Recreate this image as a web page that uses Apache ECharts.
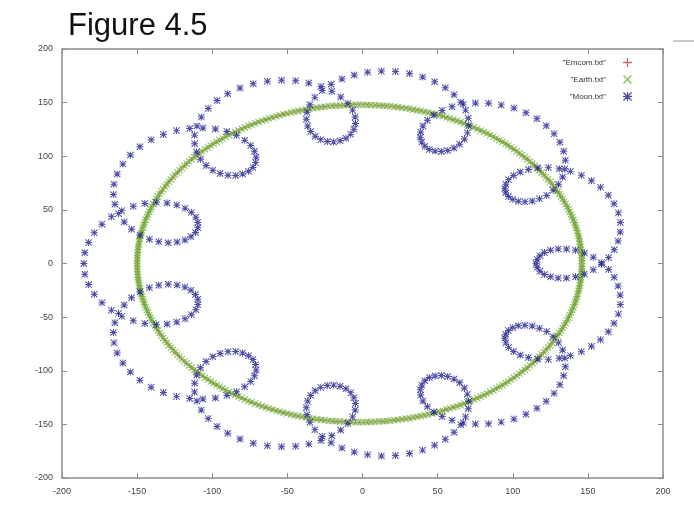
<!DOCTYPE html>
<html>
<head>
<meta charset="utf-8">
<title>Figure 4.5</title>
<style>
  html, body { margin: 0; padding: 0; background: #fff; }
  #chart { width: 694px; height: 509px; }
</style>
<script src="https://cdn.jsdelivr.net/npm/echarts@6/dist/echarts.min.js"></script>
</head>
<body>
<div id="chart"></div>
<script>
// axis range shared by x and y
const axisMin = -200;
const axisMax = 200;
const axisStep = 50;

const seriesNames = ['"Emcom.txt"', '"Earth.txt"', '"Moon.txt"'];

// Earth.txt, one point per step around the orbit
const earthX = [
  146.0,146.0,145.9,145.8,145.6,145.4,145.2,144.9,144.6,144.2,
  143.8,143.3,142.8,142.2,141.6,141.0,140.3,139.5,138.8,137.9,
  137.1,136.2,135.2,134.2,133.2,132.1,131.0,129.9,128.7,127.4,
  126.2,124.9,123.5,122.1,120.7,119.2,117.7,116.2,114.6,113.0,
  111.4,109.7,108.0,106.2,104.5,102.7,100.8,98.9,97.0,95.1,
  93.1,91.1,89.1,87.1,85.0,82.9,80.8,78.6,76.4,74.2,
  72.0,69.8,67.5,65.2,62.9,60.5,58.2,55.8,53.4,51.0,
  48.6,46.2,43.7,41.3,38.8,36.3,33.8,31.3,28.8,26.2,
  23.7,21.2,18.6,16.0,13.5,10.9,8.3,5.7,3.2,0.6,
  -2.0,-4.6,-7.2,-9.7,-12.3,-14.9,-17.5,-20.0,-22.6,-25.2,
  -27.7,-30.2,-32.8,-35.3,-37.8,-40.3,-42.8,-45.3,-47.7,-50.2,
  -52.6,-55.0,-57.4,-59.8,-62.2,-64.5,-66.9,-69.2,-71.5,-73.8,
  -76.0,-78.2,-80.4,-82.6,-84.8,-86.9,-89.0,-91.1,-93.1,-95.1,
  -97.1,-99.1,-101.0,-102.9,-104.8,-106.7,-108.5,-110.2,-112.0,-113.7,
  -115.4,-117.0,-118.6,-120.2,-121.7,-123.2,-124.7,-126.1,-127.5,-128.9,
  -130.2,-131.4,-132.7,-133.9,-135.0,-136.1,-137.2,-138.2,-139.2,-140.2,
  -141.1,-141.9,-142.8,-143.5,-144.3,-145.0,-145.6,-146.2,-146.8,-147.3,
  -147.8,-148.2,-148.6,-148.9,-149.2,-149.4,-149.6,-149.8,-149.9,-150.0,
  -150.0,-150.0,-149.9,-149.8,-149.6,-149.4,-149.2,-148.9,-148.6,-148.2,
  -147.8,-147.3,-146.8,-146.2,-145.6,-145.0,-144.3,-143.5,-142.8,-141.9,
  -141.1,-140.2,-139.2,-138.2,-137.2,-136.1,-135.0,-133.9,-132.7,-131.4,
  -130.2,-128.9,-127.5,-126.1,-124.7,-123.2,-121.7,-120.2,-118.6,-117.0,
  -115.4,-113.7,-112.0,-110.2,-108.5,-106.7,-104.8,-102.9,-101.0,-99.1,
  -97.1,-95.1,-93.1,-91.1,-89.0,-86.9,-84.8,-82.6,-80.4,-78.2,
  -76.0,-73.8,-71.5,-69.2,-66.9,-64.5,-62.2,-59.8,-57.4,-55.0,
  -52.6,-50.2,-47.7,-45.3,-42.8,-40.3,-37.8,-35.3,-32.8,-30.2,
  -27.7,-25.2,-22.6,-20.0,-17.5,-14.9,-12.3,-9.7,-7.2,-4.6,
  -2.0,0.6,3.2,5.7,8.3,10.9,13.5,16.0,18.6,21.2,
  23.7,26.2,28.8,31.3,33.8,36.3,38.8,41.3,43.7,46.2,
  48.6,51.0,53.4,55.8,58.2,60.5,62.9,65.2,67.5,69.8,
  72.0,74.2,76.4,78.6,80.8,82.9,85.0,87.1,89.1,91.1,
  93.1,95.1,97.0,98.9,100.8,102.7,104.5,106.2,108.0,109.7,
  111.4,113.0,114.6,116.2,117.7,119.2,120.7,122.1,123.5,124.9,
  126.2,127.4,128.7,129.9,131.0,132.1,133.2,134.2,135.2,136.2,
  137.1,137.9,138.8,139.5,140.3,141.0,141.6,142.2,142.8,143.3,
  143.8,144.2,144.6,144.9,145.2,145.4,145.6,145.8,145.9,146.0
];
const earthY = [
  0.0,2.6,5.2,7.7,10.3,12.9,15.5,18.0,20.6,23.2,
  25.7,28.2,30.8,33.3,35.8,38.3,40.8,43.3,45.7,48.2,
  50.6,53.0,55.4,57.8,60.2,62.5,64.9,67.2,69.5,71.8,
  74.0,76.2,78.4,80.6,82.8,84.9,87.0,89.1,91.1,93.1,
  95.1,97.1,99.0,100.9,102.8,104.7,106.5,108.2,110.0,111.7,
  113.4,115.0,116.6,118.2,119.7,121.2,122.7,124.1,125.5,126.9,
  128.2,129.4,130.7,131.9,133.0,134.1,135.2,136.2,137.2,138.2,
  139.1,139.9,140.8,141.5,142.3,143.0,143.6,144.2,144.8,145.3,
  145.8,146.2,146.6,146.9,147.2,147.4,147.6,147.8,147.9,148.0,
  148.0,148.0,147.9,147.8,147.6,147.4,147.2,146.9,146.6,146.2,
  145.8,145.3,144.8,144.2,143.6,143.0,142.3,141.5,140.8,139.9,
  139.1,138.2,137.2,136.2,135.2,134.1,133.0,131.9,130.7,129.4,
  128.2,126.9,125.5,124.1,122.7,121.2,119.7,118.2,116.6,115.0,
  113.4,111.7,110.0,108.2,106.5,104.7,102.8,100.9,99.0,97.1,
  95.1,93.1,91.1,89.1,87.0,84.9,82.8,80.6,78.4,76.2,
  74.0,71.8,69.5,67.2,64.9,62.5,60.2,57.8,55.4,53.0,
  50.6,48.2,45.7,43.3,40.8,38.3,35.8,33.3,30.8,28.2,
  25.7,23.2,20.6,18.0,15.5,12.9,10.3,7.7,5.2,2.6,
  0.0,-2.6,-5.2,-7.7,-10.3,-12.9,-15.5,-18.0,-20.6,-23.2,
  -25.7,-28.2,-30.8,-33.3,-35.8,-38.3,-40.8,-43.3,-45.7,-48.2,
  -50.6,-53.0,-55.4,-57.8,-60.2,-62.5,-64.9,-67.2,-69.5,-71.8,
  -74.0,-76.2,-78.4,-80.6,-82.8,-84.9,-87.0,-89.1,-91.1,-93.1,
  -95.1,-97.1,-99.0,-100.9,-102.8,-104.7,-106.5,-108.2,-110.0,-111.7,
  -113.4,-115.0,-116.6,-118.2,-119.7,-121.2,-122.7,-124.1,-125.5,-126.9,
  -128.2,-129.4,-130.7,-131.9,-133.0,-134.1,-135.2,-136.2,-137.2,-138.2,
  -139.1,-139.9,-140.8,-141.5,-142.3,-143.0,-143.6,-144.2,-144.8,-145.3,
  -145.8,-146.2,-146.6,-146.9,-147.2,-147.4,-147.6,-147.8,-147.9,-148.0,
  -148.0,-148.0,-147.9,-147.8,-147.6,-147.4,-147.2,-146.9,-146.6,-146.2,
  -145.8,-145.3,-144.8,-144.2,-143.6,-143.0,-142.3,-141.5,-140.8,-139.9,
  -139.1,-138.2,-137.2,-136.2,-135.2,-134.1,-133.0,-131.9,-130.7,-129.4,
  -128.2,-126.9,-125.5,-124.1,-122.7,-121.2,-119.7,-118.2,-116.6,-115.0,
  -113.4,-111.7,-110.0,-108.2,-106.5,-104.7,-102.8,-100.9,-99.0,-97.1,
  -95.1,-93.1,-91.1,-89.1,-87.0,-84.9,-82.8,-80.6,-78.4,-76.2,
  -74.0,-71.8,-69.5,-67.2,-64.9,-62.5,-60.2,-57.8,-55.4,-53.0,
  -50.6,-48.2,-45.7,-43.3,-40.8,-38.3,-35.8,-33.3,-30.8,-28.2,
  -25.7,-23.2,-20.6,-18.0,-15.5,-12.9,-10.3,-7.7,-5.2,-2.6
];

// Emcom.txt sits on top of the Earth track at this scale
const emcomX = earthX.slice();
const emcomY = earthY.slice();

// Moon.txt
const moonX = [
  115.5,116.2,118.1,121.1,125.2,130.2,135.8,141.8,147.7,153.6,
  159.1,163.8,167.5,170.1,171.5,171.6,170.3,167.4,163.6,158.4,
  152.4,145.7,138.4,131.0,123.7,116.7,110.4,105.0,100.6,97.2,
  95.4,94.7,95.3,97.1,100.0,103.7,108.1,113.0,117.8,122.6,
  126.9,130.5,133.2,134.6,135.0,133.9,131.4,127.5,122.3,116.1,
  108.8,100.8,92.3,83.9,75.2,67.1,59.6,53.0,47.5,43.2,
  40.2,38.7,38.5,39.4,41.5,44.5,48.3,52.5,56.7,60.9,
  64.7,67.8,69.8,70.7,70.4,68.6,65.5,60.9,55.1,48.0,
  40.0,31.3,22.0,12.6,3.4,-5.5,-13.7,-20.9,-26.8,-31.7,
  -35.0,-36.9,-37.4,-36.5,-34.5,-31.5,-27.8,-23.4,-19.2,-14.9,
  -11.0,-7.8,-5.7,-4.7,-4.9,-6.6,-9.8,-14.5,-20.4,-27.6,
  -35.7,-44.5,-53.9,-63.3,-72.7,-81.5,-89.7,-96.8,-102.7,-107.3,
  -110.2,-111.8,-111.7,-110.4,-107.8,-104.1,-99.6,-94.7,-89.5,-84.4,
  -79.8,-75.9,-72.9,-71.2,-70.8,-71.9,-74.4,-78.4,-83.8,-90.3,
  -97.9,-106.2,-115.0,-123.8,-132.5,-140.7,-148.2,-154.5,-159.5,-163.3,
  -165.4,-165.8,-164.8,-162.4,-158.6,-153.7,-148.1,-141.8,-135.6,-129.3,
  -123.4,-118.2,-114.2,-111.2,-109.6,-109.6,-110.9,-113.9,-118.1,-123.6,
  -130.1,-137.2,-144.9,-152.6,-160.2,-167.1,-173.4,-178.5,-182.3,-184.8,
  -185.5,-184.8,-182.3,-178.5,-173.4,-167.1,-160.2,-152.6,-144.9,-137.2,
  -130.1,-123.6,-118.1,-113.9,-110.9,-109.6,-109.6,-111.2,-114.2,-118.2,
  -123.4,-129.3,-135.6,-141.8,-148.1,-153.7,-158.6,-162.4,-164.8,-165.8,
  -165.4,-163.3,-159.5,-154.5,-148.2,-140.7,-132.5,-123.8,-115.0,-106.2,
  -97.9,-90.3,-83.8,-78.4,-74.4,-71.9,-70.8,-71.2,-72.9,-75.9,
  -79.8,-84.4,-89.5,-94.7,-99.6,-104.1,-107.8,-110.4,-111.7,-111.8,
  -110.2,-107.3,-102.7,-96.8,-89.7,-81.5,-72.7,-63.3,-53.9,-44.5,
  -35.7,-27.6,-20.4,-14.5,-9.8,-6.6,-4.9,-4.7,-5.7,-7.8,
  -11.0,-14.9,-19.2,-23.4,-27.8,-31.5,-34.5,-36.5,-37.4,-36.9,
  -35.0,-31.7,-26.8,-20.9,-13.7,-5.5,3.4,12.6,22.0,31.3,
  40.0,48.0,55.1,60.9,65.5,68.6,70.4,70.7,69.8,67.8,
  64.7,60.9,56.7,52.5,48.3,44.5,41.5,39.4,38.5,38.7,
  40.2,43.2,47.5,53.0,59.6,67.1,75.2,83.9,92.3,100.8,
  108.8,116.1,122.3,127.5,131.4,133.9,135.0,134.6,133.2,130.5,
  126.9,122.6,117.8,113.0,108.1,103.7,100.0,97.1,95.3,94.7,
  95.4,97.2,100.6,105.0,110.4,116.7,123.7,131.0,138.4,145.7,
  152.4,158.4,163.6,167.4,170.3,171.6,171.5,170.1,167.5,163.8,
  159.1,153.6,147.7,141.8,135.8,130.2,125.2,121.1,118.1,116.2
];
const moonY = [
  0.0,-3.8,-7.2,-10.2,-12.3,-13.5,-13.5,-12.3,-9.7,-5.9,
  -0.8,5.5,12.8,20.9,29.4,38.3,47.2,55.7,63.7,71.0,
  77.2,82.2,85.9,88.3,89.4,89.1,87.7,85.3,82.0,78.2,
  74.0,69.8,65.9,62.4,59.8,58.1,57.5,58.3,60.3,63.5,
  68.2,74.0,80.7,88.2,96.3,104.7,113.0,120.9,128.4,135.0,
  140.6,144.9,147.9,149.5,149.7,148.6,146.2,142.7,138.4,133.5,
  128.2,122.7,117.8,113.2,109.3,106.4,104.8,104.4,105.3,107.7,
  111.2,116.0,121.8,128.4,135.5,143.0,150.4,157.4,163.9,169.4,
  174.0,177.2,179.0,179.4,178.4,175.8,172.0,167.1,161.3,154.9,
  148.0,141.1,134.5,128.3,123.0,118.6,115.5,113.8,113.4,114.4,
  116.8,120.4,125.1,130.6,136.6,143.0,149.3,155.2,160.6,165.0,
  168.4,170.5,170.9,170.0,167.6,163.6,158.3,152.0,144.6,136.5,
  128.2,119.7,111.6,103.9,97.2,91.4,86.9,83.9,82.3,82.1,
  83.4,86.0,89.6,94.1,99.2,104.7,110.1,115.0,119.5,123.0,
  125.4,126.3,125.9,123.9,120.3,115.3,108.8,101.2,92.7,83.5,
  74.0,64.4,55.2,46.5,38.7,31.9,26.6,22.7,20.3,19.4,
  20.0,22.0,24.9,28.9,33.4,38.3,43.2,47.7,51.6,54.5,
  56.4,57.0,55.9,53.3,49.3,43.7,36.7,28.6,19.6,10.0,
  0.0,-10.0,-19.6,-28.6,-36.7,-43.7,-49.3,-53.3,-55.9,-57.0,
  -56.4,-54.5,-51.6,-47.7,-43.2,-38.3,-33.4,-28.9,-24.9,-22.0,
  -20.0,-19.4,-20.3,-22.7,-26.6,-31.9,-38.7,-46.5,-55.2,-64.4,
  -74.0,-83.5,-92.7,-101.2,-108.8,-115.3,-120.3,-123.9,-125.9,-126.3,
  -125.4,-123.0,-119.5,-115.0,-110.1,-104.7,-99.2,-94.1,-89.6,-86.0,
  -83.4,-82.1,-82.3,-83.9,-86.9,-91.4,-97.2,-103.9,-111.6,-119.7,
  -128.2,-136.5,-144.6,-152.0,-158.3,-163.6,-167.6,-170.0,-170.9,-170.5,
  -168.4,-165.0,-160.6,-155.2,-149.3,-143.0,-136.6,-130.6,-125.1,-120.4,
  -116.8,-114.4,-113.4,-113.8,-115.5,-118.6,-123.0,-128.3,-134.5,-141.1,
  -148.0,-154.9,-161.3,-167.1,-172.0,-175.8,-178.4,-179.4,-179.0,-177.2,
  -174.0,-169.4,-163.9,-157.4,-150.4,-143.0,-135.5,-128.4,-121.8,-116.0,
  -111.2,-107.7,-105.3,-104.4,-104.8,-106.4,-109.3,-113.2,-117.8,-122.7,
  -128.2,-133.5,-138.4,-142.7,-146.2,-148.6,-149.7,-149.5,-147.9,-144.9,
  -140.6,-135.0,-128.4,-120.9,-113.0,-104.7,-96.3,-88.2,-80.7,-74.0,
  -68.2,-63.5,-60.3,-58.3,-57.5,-58.1,-59.8,-62.4,-65.9,-69.8,
  -74.0,-78.2,-82.0,-85.3,-87.7,-89.1,-89.4,-88.3,-85.9,-82.2,
  -77.2,-71.0,-63.7,-55.7,-47.2,-38.3,-29.4,-20.9,-12.8,-5.5,
  0.8,5.9,9.7,12.3,13.5,13.5,12.3,10.2,7.2,3.8
];

// gnuplot style point glyphs
const plusPath = 'path://M4.3,0H5.7V4.3H10V5.7H5.7V10H4.3V5.7H0V4.3H4.3Z';
const crossPath = 'path://M0,1.1L1.1,0L5,3.9L8.9,0L10,1.1L6.1,5L10,8.9L8.9,10L5,6.1L1.1,10L0,8.9L3.9,5Z';
const starPath = 'path://M4.3,0H5.7V4.3H10V5.7H5.7V10H4.3V5.7H0V4.3H4.3Z' +
  'M0,1L1,0L5,4L9,0L10,1L6,5L10,9L9,10L5,6L1,10L0,9L4,5Z';

function pairs(xs, ys) {
  return xs.map((x, i) => [x, ys[i]]);
}

const chart = echarts.init(document.getElementById('chart'));

const frameColor = '#8c8c8c';
const labelStyle = { fontSize: 9, color: '#444', fontFamily: 'Liberation Sans, Arial, sans-serif' };

function valueAxis(pos, showLabel) {
  return {
    type: 'value',
    position: pos,
    min: axisMin,
    max: axisMax,
    interval: axisStep,
    axisLine: { show: true, onZero: false, lineStyle: { color: frameColor, width: 1.5 } },
    axisTick: { show: true, inside: true, length: 5, lineStyle: { color: frameColor, width: 1 } },
    axisLabel: Object.assign({ show: showLabel, margin: 9 }, labelStyle),
    splitLine: { show: false }
  };
}

const option = {
  animation: false,
  backgroundColor: '#fff',
  title: {
    text: 'Figure 4.5',
    left: 63,
    top: 6,
    textStyle: { fontSize: 31, fontWeight: 'normal', color: '#111', fontFamily: 'Liberation Sans, Arial, sans-serif' }
  },
  grid: { left: 62, right: 31, top: 49, bottom: 31 },
  xAxis: [valueAxis('bottom', true), valueAxis('top', false)],
  yAxis: [valueAxis('left', true), valueAxis('right', false)],
  legend: {
    orient: 'vertical',
    align: 'right',
    right: 62,
    top: 58,
    padding: 0,
    itemGap: 8,
    itemWidth: 9,
    itemHeight: 9,
    data: seriesNames,
    textStyle: { fontSize: 8, color: '#333', padding: [0, 12, 0, 0], fontFamily: 'Liberation Sans, Arial, sans-serif' }
  },
  graphic: [
    { type: 'line', shape: { x1: 673, y1: 41, x2: 694, y2: 41 }, style: { stroke: '#999', lineWidth: 1 } }
  ],
  series: [
    {
      name: seriesNames[0],
      type: 'scatter',
      symbol: plusPath,
      symbolSize: 5,
      itemStyle: { color: '#b8472a' },
      data: pairs(emcomX, emcomY)
    },
    {
      name: seriesNames[1],
      type: 'scatter',
      symbol: crossPath,
      symbolSize: 7,
      itemStyle: { color: '#62b532' },
      data: pairs(earthX, earthY)
    },
    {
      name: seriesNames[2],
      type: 'scatter',
      symbol: starPath,
      symbolSize: 7,
      itemStyle: { color: '#222290' },
      data: pairs(moonX, moonY)
    }
  ]
};

chart.setOption(option);
</script>
</body>
</html>
